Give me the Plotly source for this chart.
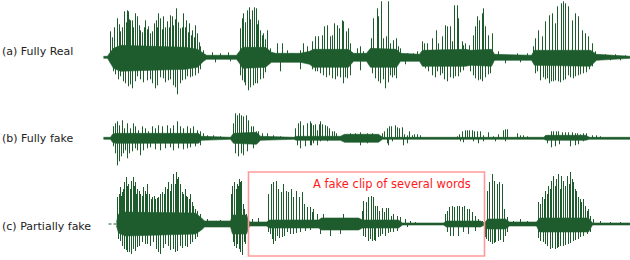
import plotly.graph_objects as go

# ---------------- data (time in frames, amplitude in arbitrary units) ----------------
LABELS = ["(a) Fully Real", "(b) Fully fake", "(c) Partially fake"]
FAKE_NOTE = "A fake clip of several words"
FAKE_START, FAKE_END = 248, 484

# (a) fully real: core envelope (t, upper, lower)
a_core_t  = [103,107,109,113,120,150,185,197,203,206,236,239,242,265,271,275,300,309,313,348,353,366,370,396,400,419,422,465,470,491,494,531,534,590,596,630]
a_core_hi = [1,1,4,9,12,11,10,8,4,2,2,6,10,10,5,4,4,6,8,8,4,4,9,8,4,3,7,8,7,8,3,2,7,7,3,1]
a_core_lo = [1,1,4,11,14,13,12,10,4,2,2,6,11,10,5,5,5,7,10,10,4,4,10,10,4,4,9,9,8,9,3,3,8,9,3,1]
# (a) positive peaks
a_up_t = [110,117,120,124,127,128,130,132,135,137,140,145,148,152,154,156,158,160,163,167,170,172,173,176,180,183,186,189,192,195,197,200,203,
          112,114,119,122,126,129,133,139,142,144,147,150,157,162,165,169,175,178,182,185,188,191,194,199,
          212,220,228,240,242,243,247,249,252,254,256,258,260,263,267,270,245,250,257,262,265,
          277,282,287,292,300,303,307,312,315,318,
          322,324,327,330,332,334,337,339,342,343,346,348,350,357,360,363,
          371,373,377,378,381,383,386,388,390,393,396,398,400,407,413,417,
          422,424,427,432,436,438,442,445,447,450,452,454,457,458,462,463,465,
          469,473,475,477,479,482,483,485,488,492,498,510,517,527,
          533,535,538,542,545,549,552,555,557,561,563,565,568,572,575,578,582,585,588,592,595,605,615,625]
a_up_v = [26,39,26,46,47,46,37,37,44,41,27,37,31,26,34,37,44,39,41,36,42,41,32,49,29,44,37,34,27,32,24,11,7,
          20,30,33,30,35,38,30,32,25,30,28,24,30,28,30,30,38,35,30,30,25,22,20,15,
          5,4,5,29,39,44,47,50,47,50,49,37,27,24,27,9,35,38,33,22,18,
          14,14,7,4,7,14,11,16,21,21,
          22,31,32,21,22,34,32,29,37,36,26,29,14,9,11,6,
          19,39,49,41,56,19,21,56,14,17,19,11,9,4,4,6,
          16,14,14,19,27,14,21,32,31,31,16,52,52,39,16,12,14,
          12,22,31,41,37,44,49,31,22,24,6,2,4,4,
          11,19,27,21,36,42,44,34,51,54,56,54,51,37,44,41,27,24,21,14,6,3,3,2]
# (a) negative peaks
a_dn_t = [113,120,123,128,132,137,147,155,157,163,168,177,182,187,192,198,
          115,118,125,130,135,140,143,150,152,160,165,170,173,175,180,185,190,195,200,
          215,230,242,245,248,253,257,263,280,300,315,240,244,250,255,260,265,
          317,323,332,337,343,347,350,360,375,385,390,396,405,312,320,326,329,335,340,345,
          372,378,380,383,388,392,394,
          425,437,442,447,453,458,463,475,478,482,490,505,520,428,432,435,440,444,450,455,460,
          470,473,480,485,488,
          537,540,547,549,553,558,563,568,573,583,592,610,620,535,543,545,551,555,560,565,570,575,578,580,586,589]
a_dn_v = [14,19,24,29,31,19,23,31,28,21,23,37,23,19,19,16,
          17,22,26,27,24,22,25,22,26,20,25,22,28,30,26,22,20,18,12,
          5,4,23,28,33,28,26,21,14,12,14,18,25,30,26,22,15,
          14,18,21,19,26,21,18,13,21,31,18,21,7,12,16,20,18,22,20,20,
          16,24,26,22,25,20,18,
          11,14,16,24,21,19,13,21,23,24,16,6,5,14,18,20,18,22,20,19,15,
          14,18,22,20,17,
          14,23,21,26,24,24,23,18,21,16,9,3,3,16,20,22,24,23,25,22,20,19,18,17,15,12]

# (b) fully fake
b_core_t  = [103,110,112,115,198,201,230,233,256,260,293,296,320,340,344,378,382,408,412,450,455,490,493,512,515,543,546,585,589,630]
b_core_hi = [1,1,4,5,5,2,1,5,6,2,1,2,2,2,4,4,1,1,1,1,1,1,1,1,1,1,3,3,1,1]
b_core_lo = [1,1,4,5,5,2,1,5,6,2,1,2,2,2,4,4,1,1,1,1,1,1,1,1,1,1,2,2,1,1]
b_up_t = [113,115,117,119,122,124,127,130,133,135,138,142,145,148,152,155,158,162,167,170,173,177,180,183,187,190,193,197,200,
          203,207,213,220,233,235,237,239,241,243,246,248,251,253,256,258,262,267,273,280,
          295,298,300,303,307,310,313,317,320,311,313,315,317,319,322,325,327,329,332,334,336,
          347,350,355,360,367,372,382,384,387,389,391,395,397,399,402,404,407,409,412,414,417,420,
          457,459,462,465,467,469,472,474,477,480,483,488,493,498,503,505,507,517,520,523,527,
          545,548,551,553,556,558,562,565,568,572,575,577,580,583,586,592,596,600]
b_up_v = [12,15,17,13,18,10,15,10,15,12,8,12,10,7,12,10,13,12,13,10,13,17,12,10,12,10,12,8,7,
          5,3,3,2,15,25,23,25,23,22,23,18,12,12,7,7,5,5,3,2,
          10,15,17,13,15,17,13,8,17,15,13,14,3,14,14,13,12,10,7,7,5,
          3,5,5,6,5,5,5,7,10,12,12,13,11,10,11,4,3,7,3,4,4,3,
          2,4,7,8,8,8,8,7,7,7,3,6,2,4,8,9,9,5,3,3,2,
          3,3,7,7,7,7,6,6,6,6,5,5,4,5,5,3,3,2]
b_dn_t = [113,117,119,123,127,132,137,140,147,160,173,187,200,235,238,241,243,247,253,
          115,121,125,129,135,143,150,155,165,170,178,183,190,195,
          297,300,305,310,317,311,313,320,327,360,367,387,388,392,403,407,
          460,463,473,478,483,495,505,547,551,555,559,570,575,578,583]
b_dn_v = [8,27,23,15,20,13,12,17,10,12,12,10,7,15,18,15,17,13,10,
          15,18,12,15,10,12,9,11,10,9,10,11,9,8,
          7,10,8,7,7,7,5,3,3,7,5,5,7,3,7,5,
          3,4,3,5,3,3,3,5,9,8,6,8,7,6,3]
# (b) reference trace drawn under the fake one
b_ref_t = [112, 630]
b_ref_v = [0, 0]

# (c) partially fake
c_core_t  = [116,118,125,195,201,204,230,232,246,249,266,269,318,321,358,362,398,402,417,443,446,480,484,487,505,509,536,539,588,592,630]
c_core_hi = [2,10,12,11,6,3,3,9,9,2,2,4,4,6,6,4,4,1,1,1,3,3,1,5,5,2,2,6,6,1,1]
c_core_lo = [2,9,12,10,6,3,3,10,10,2,2,4,4,6,6,4,4,1,1,1,3,3,1,5,5,2,2,8,8,1,1]
c_up_t = [117,120,122,124,126,128,131,133,135,137,140,143,145,147,149,152,155,158,162,165,168,171,173,176,178,180,183,185,187,190,193,197,200,
          119,121,123,127,130,134,136,139,142,146,151,154,157,160,164,167,170,175,177,182,186,189,192,195,
          207,213,220,232,234,237,239,241,243,246,252,258,231,236,238,240,244,
          268,271,273,276,278,281,283,286,288,291,293,296,299,302,304,307,310,313,317,
          312,323,343,362,363,366,368,371,373,375,377,379,382,384,386,388,391,393,397,400,405,410,415,
          445,447,449,452,454,457,459,462,464,467,469,472,475,478,482,
          484,487,489,492,494,497,499,502,504,507,513,520,527,
          538,542,545,548,551,553,556,558,561,563,565,567,570,573,576,578,581,583,587,590,593,600,610,620,
          540,544,547,550,555,560,569,572,575,580,585,588]
c_up_v = [27,37,32,42,47,40,43,47,42,35,30,37,33,40,30,27,25,27,32,37,42,40,50,52,47,40,30,35,27,30,18,13,10,
          30,28,35,38,35,38,30,33,28,30,25,28,26,30,30,35,33,40,45,32,28,25,22,15,
          5,3,4,38,42,40,45,43,20,10,5,6,30,35,38,42,15,
          30,40,42,43,35,32,40,33,32,35,27,33,27,32,20,17,17,15,10,
          12,10,10,13,23,22,27,28,27,18,18,13,16,12,16,16,8,10,8,7,5,3,2,
          10,13,17,18,17,18,18,17,18,15,15,12,8,5,3,
          13,33,42,50,43,40,42,40,15,7,3,5,3,
          22,27,33,38,43,48,45,50,48,43,38,48,52,42,33,27,22,25,13,8,5,3,2,2,
          20,25,30,35,38,35,40,45,35,25,18,15]
c_dn_t = [120,124,127,131,135,137,142,147,153,160,165,168,173,177,180,187,192,197,
          118,122,126,129,133,139,145,150,156,158,163,170,175,182,185,190,195,
          233,237,239,242,245,270,273,277,282,287,293,300,234,236,240,244,
          268,272,275,279,284,290,296,305,310,
          320,330,340,365,368,372,375,378,382,385,390,397,407,363,370,374,380,388,393,
          447,450,453,458,463,468,475,485,488,492,495,498,503,507,486,490,494,500,505,
          540,543,547,550,555,558,563,568,573,580,587,538,545,552,557,560,565,570,575,578,583,590]
c_dn_v = [17,25,28,30,27,23,18,20,18,30,20,22,25,27,22,23,18,13,
          15,22,26,28,25,22,20,22,25,28,24,26,28,24,22,20,15,
          18,20,25,31,20,10,20,12,13,8,10,8,22,24,28,18,
          8,15,17,14,12,10,9,7,6,
          10,12,10,13,17,17,17,13,10,12,8,7,3,12,15,16,12,9,8,
          8,12,12,12,8,10,7,13,17,20,18,17,18,8,15,18,19,16,12,
          17,18,22,25,25,23,22,20,17,13,10,14,20,24,24,22,21,19,16,15,12,8]
c_lead_t = [108, 116]
c_lead_v = [0, 0]

# ---------------- figure ----------------
GREEN = "#1e5c2e"
fig = go.Figure()

def add_wave(axis, core_t, core_hi, core_lo, up_t, up_v, dn_t, dn_v):
    ya = "y" if axis == 1 else f"y{axis}"
    xs = list(core_t) + list(core_t[::-1])
    ys = list(core_hi) + [-v for v in core_lo[::-1]]
    fig.add_trace(go.Scatter(x=xs, y=ys, fill="toself", fillcolor=GREEN, mode="lines",
                             line=dict(color=GREEN, width=0.6), yaxis=ya, hoverinfo="skip",
                             showlegend=False))
    sx, sy = [], []
    for t, v in zip(up_t, up_v):
        sx += [t, t, None]; sy += [0, v, None]
    for t, v in zip(dn_t, dn_v):
        sx += [t, t, None]; sy += [0, -v, None]
    fig.add_trace(go.Scatter(x=sx, y=sy, mode="lines", line=dict(color=GREEN, width=1),
                             yaxis=ya, hoverinfo="skip", showlegend=False))

fig.add_trace(go.Scatter(x=b_ref_t, y=b_ref_v, mode="lines", line=dict(color="#b8322a", width=1.2),
                         yaxis="y2", showlegend=False, hoverinfo="skip"))
add_wave(1, a_core_t, a_core_hi, a_core_lo, a_up_t, a_up_v, a_dn_t, a_dn_v)
add_wave(2, b_core_t, b_core_hi, b_core_lo, b_up_t, b_up_v, b_dn_t, b_dn_v)
add_wave(3, c_core_t, c_core_hi, c_core_lo, c_up_t, c_up_v, c_dn_t, c_dn_v)
fig.add_trace(go.Scatter(x=c_lead_t, y=c_lead_v, mode="lines", line=dict(color=GREEN, width=1, dash="3px,2px"),
                         yaxis="y3", showlegend=False, hoverinfo="skip"))

ax = dict(visible=False, showgrid=False, zeroline=False, fixedrange=True)
fig.update_layout(
    width=630, height=260, margin=dict(l=0, r=0, t=0, b=0),
    paper_bgcolor="white", plot_bgcolor="white",
    xaxis=dict(range=[-0.5, 629.5], domain=[0, 1], **ax),
    yaxis=dict(range=[-42.7, 57.3], domain=[1 - 100 / 260, 1], **ax),
    yaxis2=dict(range=[-31.7, 38.3], domain=[1 - 170 / 260, 1 - 100 / 260], **ax),
    yaxis3=dict(range=[-36, 54], domain=[0, 1 - 170 / 260], **ax),
)

# fake clip box
fig.add_shape(type="rect", xref="x", yref="paper", x0=FAKE_START, x1=FAKE_END,
              y0=1 - 256 / 260, y1=1 - 172 / 260, line=dict(color="#ff9a9a", width=1.6),
              fillcolor="rgba(0,0,0,0)", layer="above")
fig.add_annotation(x=310, y=1 - 184 / 260, xref="x", yref="paper", text=FAKE_NOTE, showarrow=False,
                   xanchor="left", yanchor="middle", font=dict(family="DejaVu Sans", size=11.5, color="#ff1a1a"))

for lab, py in zip(LABELS, [52, 138, 226]):
    fig.add_annotation(x=0, y=1 - py / 260, xref="paper", yref="paper", text=lab, showarrow=False,
                       xanchor="left", yanchor="middle", font=dict(family="DejaVu Sans", size=11, color="#222222"))

fig.write_html("out.html", config={"displayModeBar": False},
               post_script="document.body.style.margin='0';document.body.style.overflow='hidden';")
